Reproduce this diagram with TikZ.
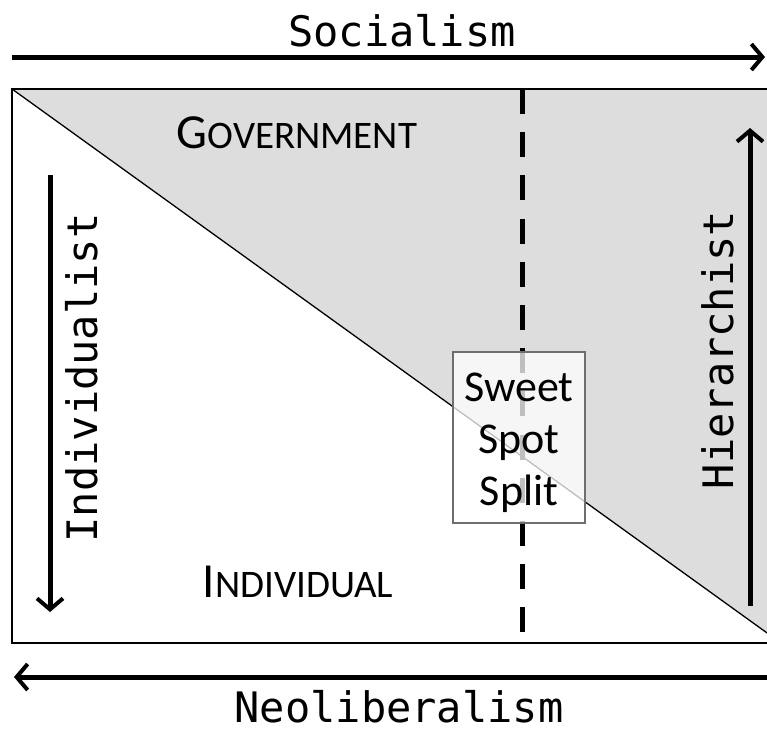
\documentclass[tikz,border=0pt]{standalone}
\usepackage{fontspec}
\usepackage{tikz}
\usetikzlibrary{arrows.meta, positioning}
\newfontfamily\axisfont{DejaVu Sans Mono}
\newfontfamily\boxfont{Carlito}
\definecolor{ssgreyfill}{RGB}{221,221,221}
\definecolor{ssborder}{RGB}{110,110,110}
\newcommand\regionsc[2]{#1{\fontsize{39}{42}\selectfont #2}}
\tikzset{
  axis/.style      = {-{Straight Barb[length=11pt,width=26pt,line width=4pt]},
                      line width=5pt},
  axislab/.style   = {font=\axisfont\fontsize{42}{46}\selectfont, inner sep=0pt},
  region/.style    = {font=\boxfont\fontsize{49}{54}\selectfont, inner sep=0pt},
  frame/.style     = {draw=black, line width=2pt},
  splitline/.style = {line width=5pt, dash pattern=on 25pt off 18.2pt},
  sweetbox/.style  = {draw=ssborder, line width=1.3pt, fill=white, fill opacity=0.75,
                      minimum width=132pt, minimum height=171pt, inner sep=0pt},
  sweettext/.style = {align=center, yshift=-5pt, inner sep=0pt,
                      font=\boxfont\fontsize{44}{52}\selectfont},
}
\begin{document}
\begin{tikzpicture}[x=1pt, y=-1pt]
  \useasboundingbox (0,0) rectangle (767,732);
  \fill[white] (0,0) rectangle (767,732);
  % the square and its split
  \coordinate (tl) at (12,89);
  \coordinate (tr) at (781,89);
  \coordinate (br) at (781,643);
  \coordinate (bl) at (12,643);
  \fill[ssgreyfill] (tl) -- (tr) -- (br) -- cycle;
  \draw[line width=1.3pt] (tl) -- (br);
  \coordinate (sa) at (522,89);
  \coordinate (sb) at (522,643);
  \draw[splitline] (sa) -- (sb);
  \draw[frame] (tl) rectangle (br);
  \node[region] (gov) at (297,133) {\regionsc{G}{OVERNMENT}};
  \node[region] (ind) at (298,582) {\regionsc{I}{NDIVIDUAL}};
  \node[sweetbox, label={[sweettext]center:{Sweet\\Spot\\Split}}] (sweet) at (519,437.5) {};
  % axes
  \coordinate (soca) at (12,57);
  \coordinate (socb) at (765,57);
  \draw[axis] (soca) -- (socb);
  \node[axislab] (soc) at (402,31) {Socialism};
  \coordinate (neoa) at (767,677);
  \coordinate (neob) at (14,677);
  \draw[axis] (neoa) -- (neob);
  \node[axislab] (neo) at (399,707) {Neoliberalism};
  \coordinate (inda) at (50,175);
  \coordinate (indb) at (50,612);
  \draw[axis] (inda) -- (indb);
  \node[axislab, rotate=90] (indlab) at (82,378) {Individualist};
  \coordinate (hiea) at (750,606);
  \coordinate (hieb) at (750,128);
  \draw[axis] (hiea) -- (hieb);
  \node[axislab, rotate=90] (hielab) at (718,350) {Hierarchist};
\end{tikzpicture}
\end{document}
